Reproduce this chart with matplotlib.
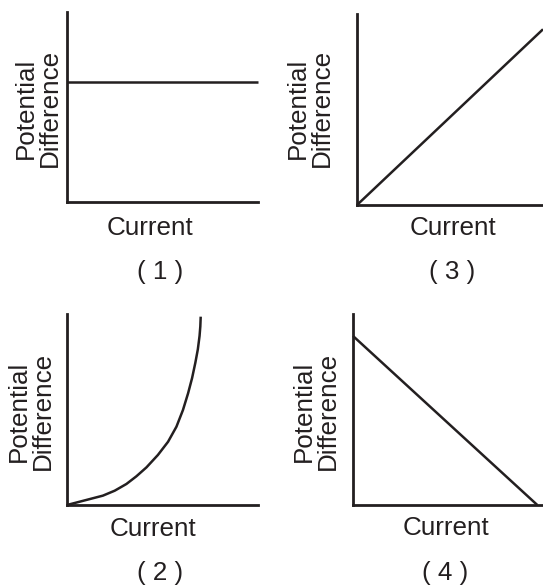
import matplotlib
matplotlib.use("Agg")
import matplotlib.pyplot as plt

# ---- data (normalized current / potential difference)
current_1 = [0.0, 1.0]
pd_1 = [0.63, 0.63]

current_2 = [0.0, 0.188, 0.25, 0.311, 0.363, 0.416, 0.476, 0.529, 0.573, 0.607,
             0.634, 0.655, 0.672, 0.685, 0.694, 0.698, 0.700]
pd_2 = [0.0, 0.049, 0.075, 0.110, 0.150, 0.197, 0.262, 0.331, 0.410, 0.497,
        0.585, 0.665, 0.745, 0.815, 0.885, 0.935, 0.986]

current_3 = [0.0, 1.0]
pd_3 = [0.0, 0.92]

current_4 = [0.0, 0.97]
pd_4 = [0.885, 0.0]

panel_labels = ["( 1 )", "( 2 )", "( 3 )", "( 4 )"]
xlabel = "Current"
ylabel = "Potential\nDifference"

INK = "#231f20"
W, H = 543, 586
plt.rcParams["font.family"] = ["Liberation Sans", "DejaVu Sans"]
FS = 18.7

fig = plt.figure(figsize=(W / 100, H / 100), dpi=100)


def px_axes(left, top, right, bottom):
    return fig.add_axes([left / W, 1 - bottom / H, (right - left) / W, (bottom - top) / H])


def style(ax):
    ax.set_xlim(0, 1)
    ax.set_ylim(0, 1)
    for s in ("top", "right"):
        ax.spines[s].set_visible(False)
    for s in ("left", "bottom"):
        ax.spines[s].set_linewidth(2.0)
        ax.spines[s].set_color(INK)
        ax.spines[s].set_capstyle("projecting")
    ax.set_xticks([])
    ax.set_yticks([])
    ax.patch.set_alpha(0)


def ftext(x, y, s, **kw):
    fig.text(x / W, 1 - y / H, s, ha="center", va="center", fontsize=FS, color=INK, **kw)


panels = [
    ((67, 12, 258, 202), current_1, pd_1, (150, 228), (160, 272), (38, 108), panel_labels[0]),
    ((67, 314, 258, 505), current_2, pd_2, (153, 529), (160, 573), (31, 411), panel_labels[1]),
    ((357, 14, 543, 205), current_3, pd_3, (453, 228), (452, 272), (310, 108), panel_labels[2]),
    ((353, 314, 543, 505), current_4, pd_4, (446, 528), (445, 573), (316, 411), panel_labels[3]),
]

for box, xs, ys, xl_pos, pl_pos, yl_pos, plab in panels:
    ax = px_axes(*box)
    style(ax)
    ax.plot(xs, ys, color=INK, lw=1.8, clip_on=False, solid_capstyle="butt",
            solid_joinstyle="round")
    ftext(*xl_pos, xlabel)
    ftext(*pl_pos, plab)
    ftext(*yl_pos, ylabel, rotation=90, linespacing=1.0, multialignment="center")

fig.savefig("out.png", dpi=100, facecolor="white")
